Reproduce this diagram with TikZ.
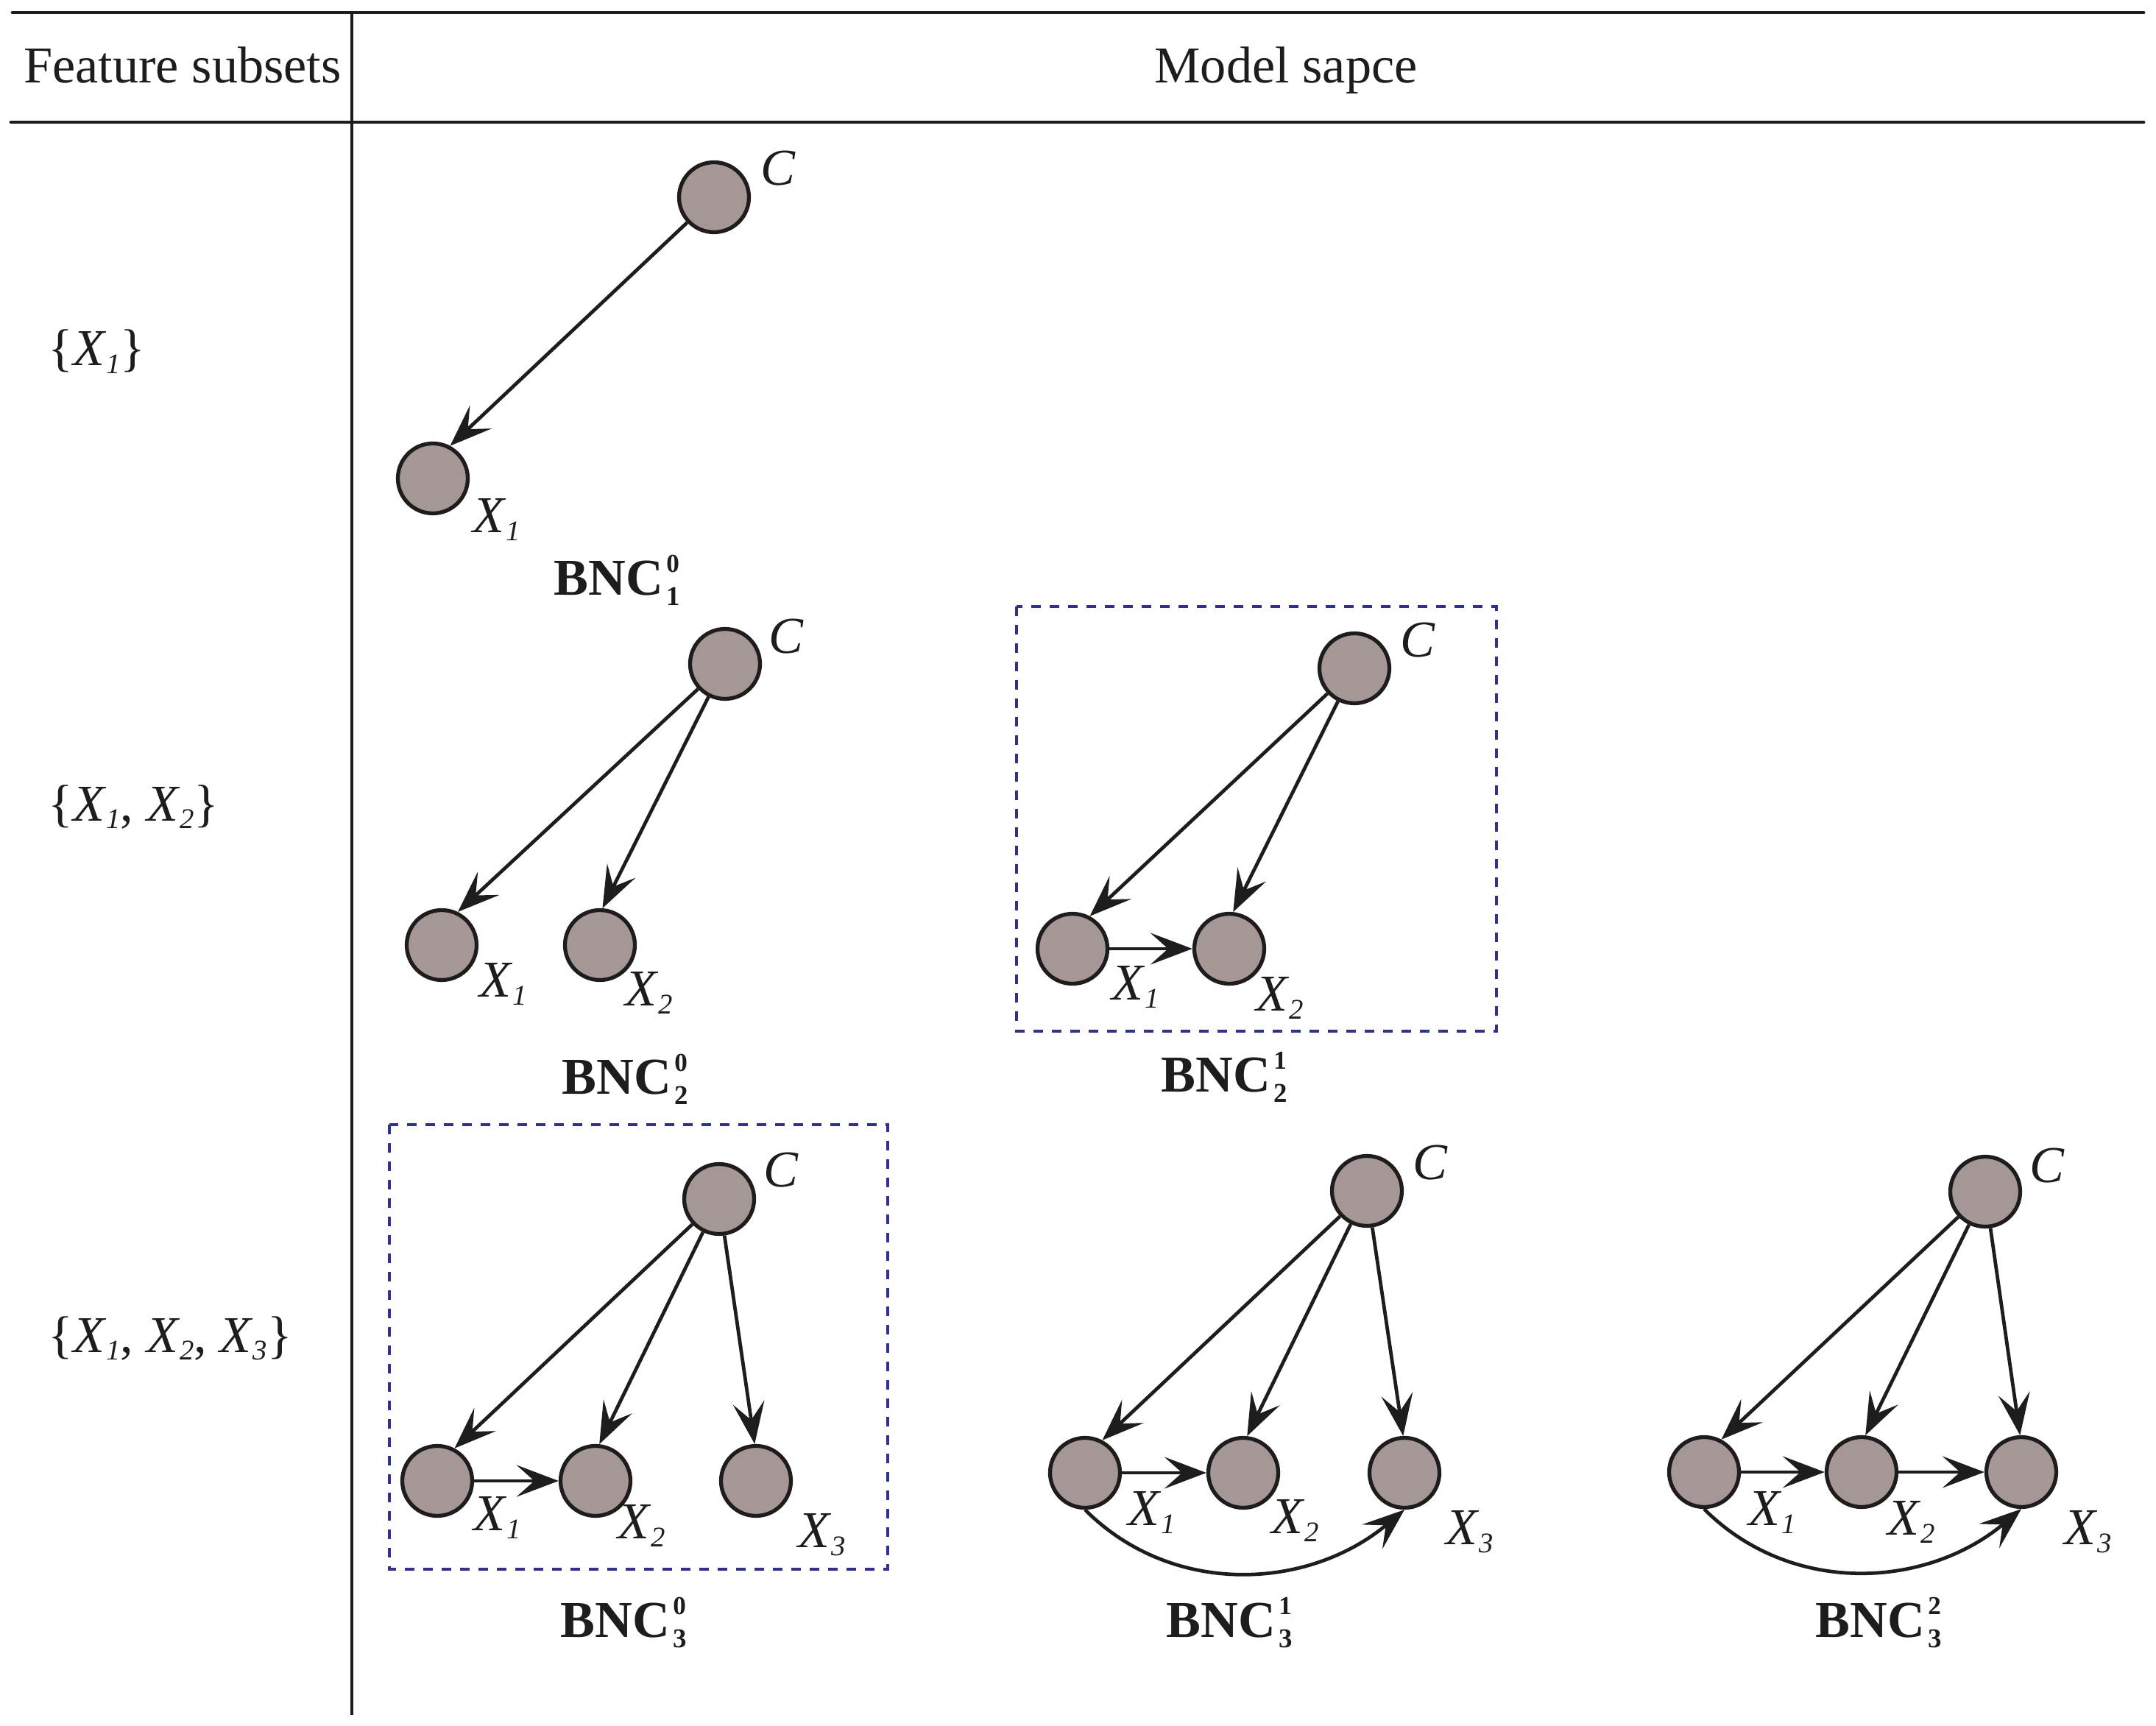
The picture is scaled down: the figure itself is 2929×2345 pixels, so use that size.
\documentclass[tikz,border=0pt]{standalone}
\usepackage{fontspec}
\setmainfont{Liberation Serif}
\usetikzlibrary{arrows.meta}
\definecolor{nodefill}{RGB}{166,151,151}
\definecolor{boxblue}{RGB}{46,49,146}
\definecolor{inkblack}{RGB}{30,28,28}
\newcommand\vx[2]{\textit{#1}\raisebox{-3pt}{\fontsize{11}{11}\selectfont\itshape #2}}
\newcommand\bnc[2]{\textbf{BNC}\hspace{1.2pt}\rlap{\raisebox{8.8pt}{\fontsize{10}{10}\selectfont\bfseries #1}}\raisebox{-4pt}{\fontsize{10.5}{10.5}\selectfont\bfseries #2}}
\begin{document}
\begin{tikzpicture}[x=0.1mm,y=-0.1mm,
  every node/.style={font=\fontsize{20}{24}\selectfont, inner sep=0pt, text=inkblack},
  vnode/.style={circle, draw=inkblack, line width=1.5pt, fill=nodefill, minimum size=9.5mm},
  arr/.style={-{Stealth[length=5.7mm,width=4.3mm,inset=2.4mm]}, line width=1.35pt, draw=inkblack},
  dbox/.style={draw=boxblue, line width=1.3pt, dash pattern=on 1.3mm off 1.2mm}
]
\fill[white] (0,0) rectangle (2929,2345);
\useasboundingbox (0,0) rectangle (2929,2345);

% table rules
\draw[line width=1.4pt, line cap=round, inkblack] (17,17) -- (2912,17);
\draw[line width=1.4pt, line cap=round, inkblack] (15,166) -- (2912,166);
\draw[line width=0.9pt, inkblack] (478,17) -- (478,2330);

% header
\node[anchor=base] (hfs) at (248,113) {Feature subsets};
\node[anchor=base] (hms) at (1747,113) {Model sapce};

% feature subsets
\node[anchor=base west] (fs1) at (65,497) {\{\vx{X}{1}\}};
\node[anchor=base west] (fs2) at (65,1115) {\{\vx{X}{1}, \vx{X}{2}\}};
\node[anchor=base west] (fs3) at (65,1837) {\{\vx{X}{1}, \vx{X}{2}, \vx{X}{3}\}};

% dashed boxes
\draw[dbox] (1381,824) rectangle (2033,1401);
\draw[dbox] (529,1528) rectangle (1206,2132);

% ---------- BNC^0_1
\node[vnode] (ac) at (970,268) {};
\node[vnode] (ax1) at (588,650) {};
\node (alc) at (1057,229) {\textit{C}};
\node (al1) at (675,706) {\vx{X}{1}};
\node[anchor=base west] (at) at (752,808) {\bnc{0}{1}};
\draw[arr] (ac) -- (ax1.62);

% ---------- BNC^0_2
\node[vnode] (bc) at (985,902) {};
\node[vnode] (bx1) at (600,1284) {};
\node[vnode] (bx2) at (815,1284) {};
\node (blc) at (1068,865) {\textit{C}};
\node (bl1) at (684,1337) {\vx{X}{1}};
\node (bl2) at (882,1349) {\vx{X}{2}};
\node[anchor=base west] (bt) at (763,1486) {\bnc{0}{2}};
\draw[arr] (bc) -- (bx1.64);
\draw[arr] (bc) -- (bx2.86);

% ---------- BNC^1_2
\node[vnode] (cc) at (1840,908) {};
\node[vnode] (cx1) at (1457,1289) {};
\node[vnode] (cx2) at (1670,1289) {};
\node (clc) at (1926,870) {\textit{C}};
\node (cl1) at (1543,1341) {\vx{X}{1}};
\node (cl2) at (1739,1356) {\vx{X}{2}};
\node[anchor=base west] (ct) at (1577,1483) {\bnc{1}{2}};
\draw[arr] (cc) -- (cx1.62);
\draw[arr] (cc) -- (cx2.84);
\draw[arr] (cx1) -- (cx2);

% ---------- BNC^0_3
\node[vnode] (dc) at (977,1629) {};
\node[vnode] (dx1) at (594,2012) {};
\node[vnode] (dx2) at (809,2012) {};
\node[vnode] (dx3) at (1027,2012) {};
\node (dlc) at (1061,1590) {\textit{C}};
\node (dl1) at (676,2062) {\vx{X}{1}};
\node (dl2) at (872,2073) {\vx{X}{2}};
\node (dl3) at (1117,2085) {\vx{X}{3}};
\node[anchor=base west] (dt) at (761,2224) {\bnc{0}{3}};
\draw[arr] (dc) -- (dx1.62);
\draw[arr] (dc) -- (dx2.84);
\draw[arr] (dc) -- (dx3.92);
\draw[arr] (dx1) -- (dx2);

% ---------- BNC^1_3
\node[vnode] (ec) at (1857,1618) {};
\node[vnode] (ex1) at (1474,2001) {};
\node[vnode] (ex2) at (1689,2001) {};
\node[vnode] (ex3) at (1908,2001) {};
\node (elc) at (1943,1580) {\textit{C}};
\node (el1) at (1565,2055) {\vx{X}{1}};
\node (el2) at (1760,2066) {\vx{X}{2}};
\node (el3) at (1997,2081) {\vx{X}{3}};
\node[anchor=base west] (et) at (1584,2224) {\bnc{1}{3}};
\draw[arr] (ec) -- (ex1.62);
\draw[arr] (ec) -- (ex2.84);
\draw[arr] (ec) -- (ex3.92);
\draw[arr] (ex1) -- (ex2);
\draw[arr] (ex1.south) to[out=-45,in=-140] (ex3.south);

% ---------- BNC^2_3
\node[vnode] (fc) at (2697,1619) {};
\node[vnode] (fx1) at (2315,2000) {};
\node[vnode] (fx2) at (2529,2000) {};
\node[vnode] (fx3) at (2746,2000) {};
\node (flc) at (2781,1584) {\textit{C}};
\node (fl1) at (2408,2055) {\vx{X}{1}};
\node (fl2) at (2597,2068) {\vx{X}{2}};
\node (fl3) at (2837,2081) {\vx{X}{3}};
\node[anchor=base west] (ft) at (2466,2224) {\bnc{2}{3}};
\draw[arr] (fc) -- (fx1.62);
\draw[arr] (fc) -- (fx2.84);
\draw[arr] (fc) -- (fx3.92);
\draw[arr] (fx1) -- (fx2);
\draw[arr] (fx2) -- (fx3);
\draw[arr] (fx1.south) to[out=-45,in=-140] (fx3.south);
\end{tikzpicture}
\end{document}
